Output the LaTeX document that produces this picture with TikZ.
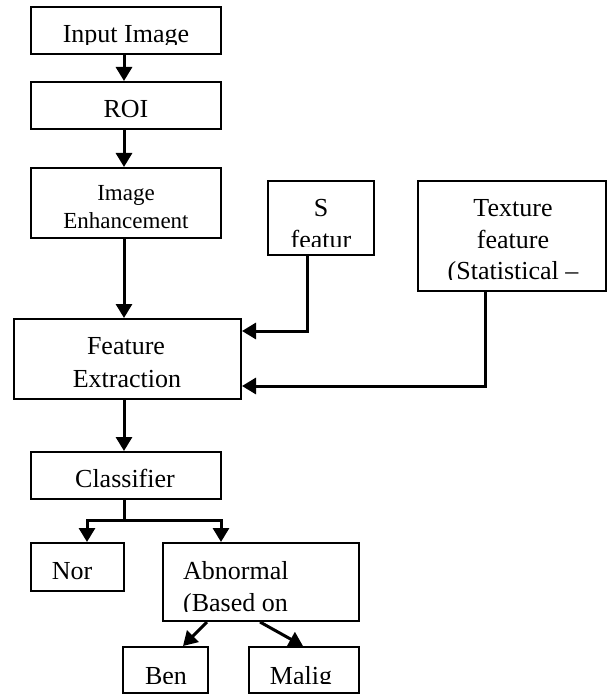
\documentclass[tikz,border=0pt]{standalone}
\usepackage{fontspec}
\setmainfont{Liberation Serif}
\usetikzlibrary{arrows.meta}

\tikzset{
  box/.style={draw=black, line width=2pt, rectangle, inner sep=0pt, fill=white},
  txt/.style={inner sep=0pt, anchor=base, font=\fontsize{26}{32}\selectfont},
  txtsmall/.style={inner sep=0pt, anchor=base, font=\fontsize{23}{27}\selectfont},
  link/.style={draw=black, line width=3pt},
  arr/.style={link, -{Triangle[length=14pt,width=16pt]}},
}

\begin{document}
\begin{tikzpicture}[x=1pt,y=-1pt]
\useasboundingbox (0,0) rectangle (607,695);

% boxes
\node[box, minimum width=190pt, minimum height=47pt] (input) at (126,30.5) {};
\node[box, minimum width=190pt, minimum height=47pt] (roi)   at (126,105.5) {};
\node[box, minimum width=190pt, minimum height=70pt] (enh)   at (126,203) {};
\node[box, minimum width=106pt, minimum height=74pt] (sfeat) at (321,218) {};
\node[box, minimum width=188pt, minimum height=110pt] (tex)  at (512,236) {};
\node[box, minimum width=227pt, minimum height=80pt] (fe)    at (127.5,359) {};
\node[box, minimum width=190pt, minimum height=47pt] (cls)   at (126,475.5) {};
\node[box, minimum width=93pt,  minimum height=48pt] (nor)   at (77.5,567) {};
\node[box, minimum width=196pt, minimum height=78pt] (abn)   at (261,582) {};
\node[box, minimum width=85pt,  minimum height=46pt] (ben)   at (165.5,670) {};
\node[box, minimum width=110pt, minimum height=46pt] (mal)   at (304,670) {};

% labels (some are cut off by their text frames)
\begin{scope}
  \clip (31,7) rectangle (221,44.5);
  \node[txt] (tInput) at (126,43) {Input Image};
\end{scope}
\node[txt] (tRoi) at (126,118) {ROI};
\node[txtsmall] (tEnh1) at (126,200) {Image};
\node[txtsmall] (tEnh2) at (126,228) {Enhancement};
\node[txt] (tS1) at (321,216) {S};
\begin{scope}
  \clip (268,181) rectangle (374,246);
  \node[txt] (tS2) at (321,248) {featur};
\end{scope}
\node[txt] (tTex1) at (513,216) {Texture};
\node[txt] (tTex2) at (513,248) {feature};
\begin{scope}
  \clip (418,181) rectangle (606,279);
  \node[txt] (tTex3) at (513,279) {(Statistical –};
\end{scope}
\node[txt] (tFe1) at (126,354) {Feature};
\node[txt] (tFe2) at (127,387) {Extraction};
\node[txt] (tCls) at (125,487) {Classifier};
\node[txt] (tNor) at (72,579) {Nor};
\node[txt, anchor=base west] (tAbn1) at (183,579) {Abnormal};
\begin{scope}
  \clip (163,543) rectangle (359,611);
  \node[txt, anchor=base west] (tAbn2) at (183,611) {(Based on};
\end{scope}
\begin{scope}
  \clip (123,647) rectangle (208,683);
  \node[txt] (tBen) at (166,684) {Ben};
\end{scope}
\begin{scope}
  \clip (249,647) rectangle (359,683);
  \node[txt] (tMal) at (301,684) {Malig};
\end{scope}

% connectors
\draw[arr] ([xshift=-2pt]input.south) -- ([xshift=-2pt]roi.north);
\draw[arr] ([xshift=-2pt]roi.south) -- ([xshift=-2pt]enh.north);
\draw[arr] ([xshift=-2pt]enh.south) -- ([xshift=-3.5pt]fe.north);
\draw[arr] ([xshift=-14pt]sfeat.south) |- ([yshift=-13pt]fe.north east);
\draw[arr] ([xshift=-27pt]tex.south) |- ([yshift=-68pt]fe.north east);
\draw[arr] ([xshift=-3.5pt]fe.south) -- ([xshift=-2pt]cls.north);
\coordinate (split) at (124,520);
\draw[link] ([xshift=-2pt]cls.south) -- (split);
\draw[arr] (split) -| ([xshift=9.5pt]nor.north);
\draw[arr] (split) -| ([xshift=-40pt]abn.north);
\draw[arr] ([xshift=-54pt]abn.south) -- ([xshift=17.5pt]ben.north);
\draw[arr] ([xshift=-1pt]abn.south) -- ([xshift=-1pt]mal.north);
\end{tikzpicture}
\end{document}
